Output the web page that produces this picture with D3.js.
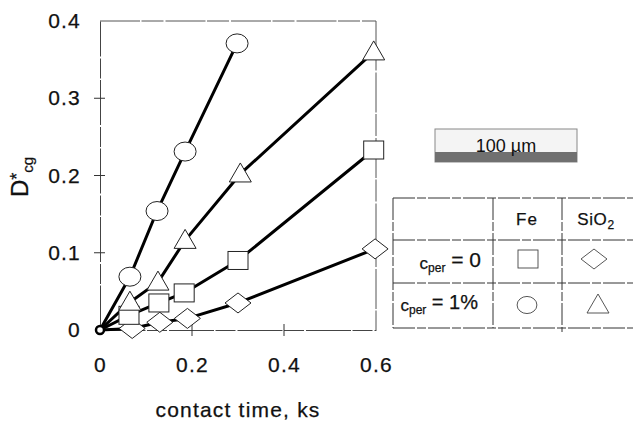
<!DOCTYPE html>
<html>
<head>
<meta charset="utf-8">
<script src="https://cdn.jsdelivr.net/npm/d3@7"></script>
<style>
  body { margin: 0; background: #fff; }
  svg { display: block; font-family: "Liberation Sans", Arial, sans-serif; }
  .thick { stroke: #111; stroke-width: 0.25px; }
</style>
</head>
<body>
<div id="chart"></div>
<script>
// contact time (ks) and D*cg, one pair of arrays per series
const circleTime = [0, 0.065, 0.124, 0.185, 0.298];
const circleD    = [0, 0.069, 0.154, 0.231, 0.371];

const triangleTime = [0, 0.065, 0.126, 0.185, 0.305, 0.595];
const triangleD    = [0, 0.036, 0.062, 0.116, 0.202, 0.360];

const squareTime = [0, 0.063, 0.128, 0.183, 0.300, 0.595];
const squareD    = [0, 0.019, 0.035, 0.048, 0.090, 0.233];

const diamondTime = [0, 0.070, 0.130, 0.190, 0.300, 0.598];
const diamondD    = [0, 0.002, 0.010, 0.015, 0.035, 0.105];

const xTicks = [0, 0.2, 0.4, 0.6];
const yTicks = [0, 0.1, 0.2, 0.3, 0.4];

const W = 633, H = 422;
const plot = {left: 100, right: 376, top: 21, bottom: 330};

let svg = d3.select("#chart").append("svg")
    .attr("width", W)
    .attr("height", H);

let x = d3.scaleLinear().domain([0, 0.6]).range([plot.left, plot.right]);
let y = d3.scaleLinear().domain([0, 0.4]).range([plot.bottom, plot.top]);

// frame (scanned look: thin grey, slightly broken)
svg.append("path")
    .attr("d", `M${x(0)},${y(0.4)}H${x(0.6)}V${y(0)}`)
    .attr("fill", "none")
    .attr("stroke", "#555")
    .attr("stroke-width", 1)
    .attr("stroke-dasharray", "40,1.5,22,2");

// axes
let xAxis = d3.axisBottom(x)
    .tickValues(xTicks)
    .tickSize(0)
    .tickPadding(27)
    .tickFormat(d => d === 0 ? "0" : d3.format(".1f")(d));

let yAxis = d3.axisLeft(y)
    .tickValues(yTicks)
    .tickSize(0)
    .tickPadding(20)
    .tickFormat(d => d === 0 ? "0" : d3.format(".1f")(d));

let gx = svg.append("g")
    .attr("transform", `translate(0,${plot.bottom})`)
    .call(xAxis);

let gy = svg.append("g")
    .attr("transform", `translate(${plot.left},0)`)
    .call(yAxis);

[gx, gy].forEach(g => {
    g.select(".domain").attr("stroke", "#444").attr("stroke-width", 1)
        .attr("stroke-dasharray", "45,1.5,20,2");
    g.selectAll("text")
        .attr("fill", "#111")
        .classed("thick", true)
        .style("font-size", "21px")
        .style("letter-spacing", "1.2px");
});
gx.selectAll("text").attr("dy", "0.71em");
gy.selectAll("text").attr("dx", "1px");

// cross ticks
svg.append("g").selectAll("line")
    .data(yTicks.filter(d => d > 0 && d < 0.4))
    .enter().append("line")
    .attr("x1", plot.left - 6).attr("x2", plot.left + 5)
    .attr("y1", d => y(d)).attr("y2", d => y(d))
    .attr("stroke", "#333").attr("stroke-width", 1);

svg.append("g").selectAll("line")
    .data(xTicks.filter(d => d > 0 && d < 0.6))
    .enter().append("line")
    .attr("x1", d => x(d)).attr("x2", d => x(d))
    .attr("y1", plot.bottom - 6).attr("y2", plot.bottom + 6)
    .attr("stroke", "#333").attr("stroke-width", 1);

// axis titles
svg.append("text")
    .attr("x", (plot.left + plot.right) / 2)
    .attr("y", 417)
    .attr("text-anchor", "middle")
    .style("font-size", "21px")
    .style("letter-spacing", "1.2px")
    .attr("fill", "#111")
    .classed("thick", true)
    .text("contact time, ks");

let ylab = svg.append("text")
    .attr("transform", "translate(28,197) rotate(-90)")
    .style("font-size", "24px")
    .attr("fill", "#111")
    .classed("thick", true);
ylab.append("tspan").text("D");
ylab.append("tspan").attr("dy", "-0.3em").style("font-size", "18px").text("*");
ylab.append("tspan").attr("dy", "0.7em").style("font-size", "15px").text("cg");

// markers
function drawMarker(g, shape, s) {
    s = s || 1;
    if (shape === "circle") {
        g.append("ellipse").attr("rx", 11 * s).attr("ry", 9.5 * s);
    } else if (shape === "square") {
        g.append("rect").attr("x", -10 * s).attr("y", -9 * s)
            .attr("width", 20 * s).attr("height", 18 * s);
    } else if (shape === "triangle") {
        g.append("path").attr("d", d3.line()([[0, -11 * s], [11 * s, 8 * s], [-11 * s, 8 * s]]) + "Z");
    } else if (shape === "diamond") {
        g.append("path").attr("d", d3.line()([[0, -10 * s], [13 * s, 0], [0, 10 * s], [-13 * s, 0]]) + "Z");
    }
}

let series = [
    {shape: "diamond", t: diamondTime, d: diamondD},
    {shape: "square", t: squareTime, d: squareD},
    {shape: "triangle", t: triangleTime, d: triangleD},
    {shape: "circle", t: circleTime, d: circleD}
];

let line = d3.line()
    .x(p => x(p[0]))
    .y(p => y(p[1]));

svg.append("g").selectAll("path")
    .data(series)
    .enter().append("path")
    .attr("d", s => line(s.t.map((t, i) => [t, s.d[i]])))
    .attr("fill", "none")
    .attr("stroke", "#000")
    .attr("stroke-width", 3)
    .attr("stroke-linejoin", "round");

series.forEach(s => {
    let g = svg.append("g").classed("markers", true);
    s.t.forEach((t, i) => {
        if (i === 0) return;
        let m = g.append("g")
            .attr("transform", `translate(${x(t)},${y(s.d[i])})`)
            .attr("fill", "#fff")
            .attr("stroke", "#222")
            .attr("stroke-width", 1);
        drawMarker(m, s.shape);
    });
});

// origin point
svg.append("circle")
    .attr("cx", x(0)).attr("cy", y(0)).attr("r", 4)
    .attr("fill", "#fff").attr("stroke", "#000").attr("stroke-width", 2.5);

// scale bar
let bar = svg.append("g").attr("transform", "translate(435,129)");
bar.append("rect").attr("width", 142).attr("height", 33)
    .attr("fill", "#f4f4f4").attr("stroke", "#888").attr("stroke-width", 1);
bar.append("rect").attr("y", 23).attr("width", 142).attr("height", 10)
    .attr("fill", "#707070");
bar.append("text")
    .attr("x", 71).attr("y", 23)
    .attr("text-anchor", "middle")
    .style("font-size", "18px")
    .attr("fill", "#111")
    .text("100 µm");

// legend table
let tab = svg.append("g")
    .attr("stroke", "#333")
    .attr("stroke-width", 1)
    .attr("stroke-dasharray", "22,2,9,2");
[198, 240, 283, 328].forEach(yy => {
    tab.append("line").attr("x1", 393).attr("x2", 633).attr("y1", yy).attr("y2", yy);
});
[[393, 328], [493, 328], [562, 332]].forEach(v => {
    tab.append("line").attr("x1", v[0]).attr("x2", v[0]).attr("y1", 198).attr("y2", v[1]);
});

let txt = svg.append("g").attr("fill", "#111").classed("thick", true);
txt.append("text").attr("x", 527).attr("y", 225).attr("text-anchor", "middle")
    .style("font-size", "17px").style("letter-spacing", "1px").text("Fe");
let si = txt.append("text").attr("x", 596).attr("y", 225).attr("text-anchor", "middle")
    .style("font-size", "17px").style("letter-spacing", "0.6px");
si.append("tspan").text("SiO");
si.append("tspan").attr("dy", "0.3em").style("font-size", "12px").text("2");

function cper(xx, yy, val, big) {
    let t = txt.append("text").attr("x", xx).attr("y", yy).attr("text-anchor", "end");
    t.append("tspan").style("font-size", "17px").text("c");
    t.append("tspan").attr("dy", "0.25em").style("font-size", "12px").text("per");
    t.append("tspan").attr("dy", "-0.25em").style("font-size", big).text(" = " + val);
}
cper(481, 269, "0", "21px");
cper(478, 311, "1%", "20px");

let legendMarks = [
    {shape: "square", cx: 528, cy: 259},
    {shape: "diamond", cx: 594, cy: 259},
    {shape: "circle", cx: 527, cy: 305},
    {shape: "triangle", cx: 598, cy: 305}
];
legendMarks.forEach(l => {
    let m = svg.append("g")
        .attr("transform", `translate(${l.cx},${l.cy})`)
        .attr("fill", "#fff")
        .attr("stroke", "#444")
        .attr("stroke-width", 0.9);
    drawMarker(m, l.shape, l.shape === "circle" ? 0.9 : 1);
});
</script>
</body>
</html>
